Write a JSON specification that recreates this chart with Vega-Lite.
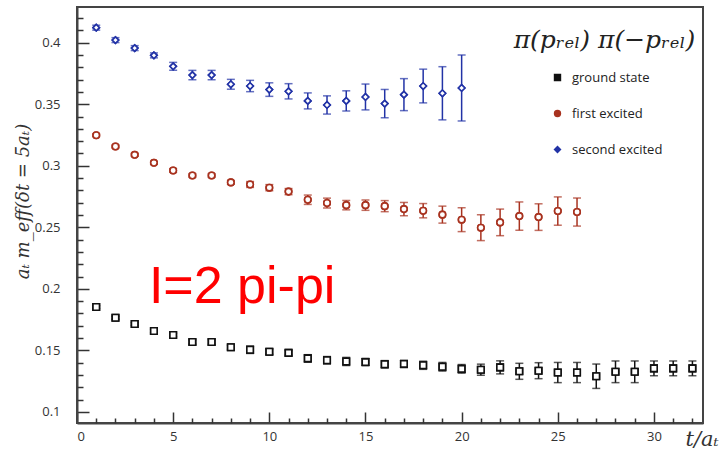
{
  "$schema": "https://vega.github.io/schema/vega-lite/v6.json",
  "width": 626,
  "height": 416,
  "autosize": {"type": "none"},
  "padding": {"left": 77, "top": 7, "right": 21, "bottom": 29},
  "background": "white",
  "config": {
    "view": {"stroke": "#444", "strokeWidth": 2},
    "axis": {"grid": false},
    "legend": {"orient": "none", "legendX": 474, "legendY": 64, "title": null, "labelFont": "Open Sans", "labelFontSize": 13, "labelColor": "#222", "rowPadding": 22, "symbolSize": 36, "symbolStrokeWidth": 1.4, "labelOffset": 8}
  },
  "datasets": {
    "pts": [
      {"t": 1, "s": "ground state", "y": 0.1852, "e": 0.0012},
      {"t": 2, "s": "ground state", "y": 0.1765, "e": 0.0012},
      {"t": 3, "s": "ground state", "y": 0.1714, "e": 0.0012},
      {"t": 4, "s": "ground state", "y": 0.1657, "e": 0.0015},
      {"t": 5, "s": "ground state", "y": 0.1625, "e": 0.0015},
      {"t": 6, "s": "ground state", "y": 0.1568, "e": 0.0018},
      {"t": 7, "s": "ground state", "y": 0.1568, "e": 0.002},
      {"t": 8, "s": "ground state", "y": 0.1525, "e": 0.0018},
      {"t": 9, "s": "ground state", "y": 0.1505, "e": 0.003},
      {"t": 10, "s": "ground state", "y": 0.1489, "e": 0.0022},
      {"t": 11, "s": "ground state", "y": 0.148, "e": 0.002},
      {"t": 12, "s": "ground state", "y": 0.1435, "e": 0.003},
      {"t": 13, "s": "ground state", "y": 0.142, "e": 0.003},
      {"t": 14, "s": "ground state", "y": 0.141, "e": 0.0033},
      {"t": 15, "s": "ground state", "y": 0.1405, "e": 0.003},
      {"t": 16, "s": "ground state", "y": 0.1387, "e": 0.003},
      {"t": 17, "s": "ground state", "y": 0.139, "e": 0.003},
      {"t": 18, "s": "ground state", "y": 0.1379, "e": 0.0033},
      {"t": 19, "s": "ground state", "y": 0.1367, "e": 0.0035},
      {"t": 20, "s": "ground state", "y": 0.135, "e": 0.0035},
      {"t": 21, "s": "ground state", "y": 0.1343, "e": 0.0045},
      {"t": 22, "s": "ground state", "y": 0.1362, "e": 0.0053},
      {"t": 23, "s": "ground state", "y": 0.133, "e": 0.0065},
      {"t": 24, "s": "ground state", "y": 0.1335, "e": 0.0065},
      {"t": 25, "s": "ground state", "y": 0.132, "e": 0.0082},
      {"t": 26, "s": "ground state", "y": 0.132, "e": 0.0082},
      {"t": 27, "s": "ground state", "y": 0.129, "e": 0.0099},
      {"t": 28, "s": "ground state", "y": 0.1326, "e": 0.0088},
      {"t": 29, "s": "ground state", "y": 0.1326, "e": 0.0088},
      {"t": 30, "s": "ground state", "y": 0.1354, "e": 0.006},
      {"t": 31, "s": "ground state", "y": 0.1354, "e": 0.006},
      {"t": 32, "s": "ground state", "y": 0.1354, "e": 0.006},
      {"t": 1, "s": "first excited", "y": 0.3248, "e": 0.001},
      {"t": 2, "s": "first excited", "y": 0.3157, "e": 0.0012},
      {"t": 3, "s": "first excited", "y": 0.3089, "e": 0.0012},
      {"t": 4, "s": "first excited", "y": 0.3024, "e": 0.001},
      {"t": 5, "s": "first excited", "y": 0.2962, "e": 0.0015},
      {"t": 6, "s": "first excited", "y": 0.2921, "e": 0.0015},
      {"t": 7, "s": "first excited", "y": 0.2921, "e": 0.0015},
      {"t": 8, "s": "first excited", "y": 0.2865, "e": 0.0015},
      {"t": 9, "s": "first excited", "y": 0.2848, "e": 0.0024},
      {"t": 10, "s": "first excited", "y": 0.2822, "e": 0.0025},
      {"t": 11, "s": "first excited", "y": 0.279, "e": 0.0025},
      {"t": 12, "s": "first excited", "y": 0.2724, "e": 0.0038},
      {"t": 13, "s": "first excited", "y": 0.2697, "e": 0.004},
      {"t": 14, "s": "first excited", "y": 0.268, "e": 0.0038},
      {"t": 15, "s": "first excited", "y": 0.268, "e": 0.0042},
      {"t": 16, "s": "first excited", "y": 0.2672, "e": 0.0045},
      {"t": 17, "s": "first excited", "y": 0.2648, "e": 0.0054},
      {"t": 18, "s": "first excited", "y": 0.2635, "e": 0.0058},
      {"t": 19, "s": "first excited", "y": 0.2603, "e": 0.0069},
      {"t": 20, "s": "first excited", "y": 0.2562, "e": 0.0097},
      {"t": 21, "s": "first excited", "y": 0.2497, "e": 0.0105},
      {"t": 22, "s": "first excited", "y": 0.254, "e": 0.0108},
      {"t": 23, "s": "first excited", "y": 0.2591, "e": 0.0115},
      {"t": 24, "s": "first excited", "y": 0.2583, "e": 0.0108},
      {"t": 25, "s": "first excited", "y": 0.2632, "e": 0.0115},
      {"t": 26, "s": "first excited", "y": 0.2624, "e": 0.0114},
      {"t": 1, "s": "second excited", "y": 0.4122, "e": 0.002},
      {"t": 2, "s": "second excited", "y": 0.4021, "e": 0.002},
      {"t": 3, "s": "second excited", "y": 0.3956, "e": 0.002},
      {"t": 4, "s": "second excited", "y": 0.3897, "e": 0.002},
      {"t": 5, "s": "second excited", "y": 0.3808, "e": 0.0032},
      {"t": 6, "s": "second excited", "y": 0.3737, "e": 0.0038},
      {"t": 7, "s": "second excited", "y": 0.3737, "e": 0.0038},
      {"t": 8, "s": "second excited", "y": 0.3662, "e": 0.004},
      {"t": 9, "s": "second excited", "y": 0.3648, "e": 0.0046},
      {"t": 10, "s": "second excited", "y": 0.3619, "e": 0.0055},
      {"t": 11, "s": "second excited", "y": 0.3605, "e": 0.0062},
      {"t": 12, "s": "second excited", "y": 0.3527, "e": 0.0065},
      {"t": 13, "s": "second excited", "y": 0.3494, "e": 0.0074},
      {"t": 14, "s": "second excited", "y": 0.3527, "e": 0.0082},
      {"t": 15, "s": "second excited", "y": 0.3559, "e": 0.0105},
      {"t": 16, "s": "second excited", "y": 0.3505, "e": 0.0115},
      {"t": 17, "s": "second excited", "y": 0.3578, "e": 0.013},
      {"t": 18, "s": "second excited", "y": 0.3648, "e": 0.0137},
      {"t": 19, "s": "second excited", "y": 0.3589, "e": 0.0216},
      {"t": 20, "s": "second excited", "y": 0.3632, "e": 0.0268}
    ],
    "ann": [
      {"t": 3.74, "y": 0.1884, "label": "I=2 pi-pi"}
    ],
    "ttl": [
      {"t": 32.15, "y": 0.4019, "label": "π(pᵣₑₗ) π(−pᵣₑₗ)"}
    ]
  },
  "resolve": {"axis": {"x": "independent", "y": "independent"}},
  "layer": [
    {
      "data": {"name": "pts"},
      "mark": {"type": "point", "filled": false, "fill": "white", "strokeWidth": 1.6, "opacity": 1, "size": 42},
      "encoding": {
        "x": {"field": "t", "type": "quantitative", "scale": {"domain": [0, 32.55], "nice": false, "zero": false}, "axis": {"orient": "bottom", "values": [0, 5, 10, 15, 20, 25, 30], "format": "d", "tickSize": -11, "tickColor": "#333", "tickWidth": 1.5, "domainColor": "#444", "domainWidth": 2, "labelFont": "Open Sans", "labelFontSize": 13, "labelColor": "#333", "labelPadding": 18, "title": "t/aₜ", "titleFont": "DejaVu Serif", "titleFontStyle": "italic", "titleFontWeight": "normal", "titleFontSize": 21, "titleColor": "#333", "titleAlign": "left", "titleBaseline": "middle", "titleX": 608, "titleY": 16}},
        "y": {"field": "y", "type": "quantitative", "scale": {"domain": [0.091, 0.429], "nice": false, "zero": false}, "axis": {"orient": "left", "values": [0.1, 0.15, 0.2, 0.25, 0.3, 0.35, 0.4], "format": "~g", "tickSize": -12, "tickColor": "#333", "tickWidth": 1.5, "domainColor": "#444", "domainWidth": 2, "labelFont": "Open Sans", "labelFontSize": 13, "labelColor": "#333", "labelPadding": 29, "title": "aₜ m_eff(δt = 5aₜ)", "titleFont": "DejaVu Serif", "titleFontStyle": "italic", "titleFontWeight": "normal", "titleFontSize": 18, "titleColor": "#333", "titleAngle": -90, "titleAlign": "center", "titleBaseline": "middle", "titleX": -54, "titleY": 194}},
        "color": {"field": "s", "type": "nominal", "scale": {"domain": ["ground state", "first excited", "second excited"], "range": ["#111111", "#a8321f", "#2233a6"]}},
        "shape": {"field": "s", "type": "nominal", "scale": {"domain": ["ground state", "first excited", "second excited"], "range": ["square", "circle", "diamond"]}}
      }
    },
    {
      "data": {"name": "pts"},
      "mark": {"type": "errorbar", "ticks": {"size": 8, "thickness": 1.5}, "rule": {"strokeWidth": 1.5}},
      "encoding": {
        "x": {"field": "t", "type": "quantitative", "axis": null},
        "y": {"field": "y", "type": "quantitative", "axis": null},
        "yError": {"field": "e"},
        "color": {"field": "s", "type": "nominal"}
      }
    },
    {
      "data": {"name": "pts"},
      "mark": {"type": "point", "filled": false, "fill": "white", "strokeWidth": 1.6, "opacity": 1, "size": 42},
      "encoding": {
        "x": {"field": "t", "type": "quantitative", "axis": null},
        "y": {"field": "y", "type": "quantitative", "axis": null},
        "color": {"field": "s", "type": "nominal"},
        "shape": {"field": "s", "type": "nominal"}
      }
    },
    {
      "data": {"name": "ann"},
      "mark": {"type": "text", "align": "left", "baseline": "alphabetic", "font": "Liberation Sans", "fontSize": 52, "color": "#ff0000"},
      "encoding": {
        "x": {"field": "t", "type": "quantitative", "axis": {"orient": "bottom", "values": [1,2,3,4,6,7,8,9,11,12,13,14,16,17,18,19,21,22,23,24,26,27,28,29,31,32], "tickSize": -5, "tickColor": "#333", "tickWidth": 1.5, "labels": false, "domain": false, "title": null}},
        "y": {"field": "y", "type": "quantitative", "axis": {"orient": "left", "values": [0.11,0.12,0.13,0.14,0.16,0.17,0.18,0.19,0.21,0.22,0.23,0.24,0.26,0.27,0.28,0.29,0.31,0.32,0.33,0.34,0.36,0.37,0.38,0.39,0.41,0.42], "tickSize": -6, "tickColor": "#333", "tickWidth": 1.5, "labels": false, "domain": false, "title": null}},
        "text": {"field": "label"}
      }
    },
    {
      "data": {"name": "ttl"},
      "mark": {"type": "text", "align": "right", "baseline": "middle", "font": "DejaVu Serif", "fontStyle": "italic", "fontSize": 25, "color": "#222"},
      "encoding": {
        "x": {"field": "t", "type": "quantitative", "axis": null},
        "y": {"field": "y", "type": "quantitative", "axis": null},
        "text": {"field": "label"}
      }
    }
  ]
}
